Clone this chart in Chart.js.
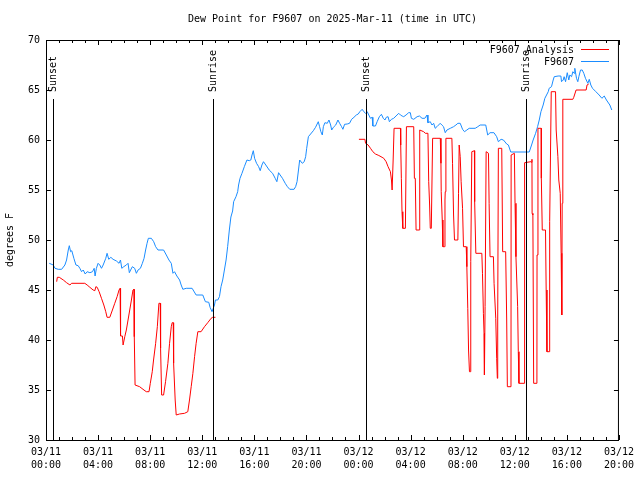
<!DOCTYPE html>
<html>
<head>
<meta charset="utf-8">
<title>Dew Point for F9607</title>
<script src="https://cdn.jsdelivr.net/npm/chart.js@4/dist/chart.umd.min.js"></script>
<style>
  html, body { margin: 0; padding: 0; background: #fff; }
  canvas { display: block; }
</style>
</head>
<body>
<canvas id="dewChart" width="640" height="480"></canvas>
<script>
// hours after 03/11 00:00 UTC
const obsHours = [0.25, 0.56, 0.69, 0.94, 1.2, 1.45, 1.58, 1.71, 1.79, 1.89, 1.98, 2.14, 2.3, 2.47, 2.6, 2.73, 2.86, 3.01, 3.16, 3.37,
  3.57, 3.7, 3.77, 3.87, 4.0, 4.13, 4.26, 4.39, 4.59, 4.69, 4.82, 4.98, 5.15, 5.41, 5.61, 5.72, 5.82, 5.97, 6.17, 6.3,
  6.4, 6.5, 6.63, 6.81, 6.94, 7.07, 7.25, 7.4, 7.53, 7.65, 7.76, 7.86, 8.09, 8.27, 8.42, 8.6, 9.03, 9.24, 9.44, 9.62,
  9.75, 9.87, 10.05, 10.26, 10.38, 10.51, 10.77, 11.22, 11.53, 12.04, 12.24, 12.5, 12.6, 12.75, 12.94, 13.01, 13.19, 13.32, 13.44, 13.57,
  13.7, 13.83, 13.95, 14.08, 14.2, 14.33, 14.41, 14.59, 14.72, 14.79, 14.9, 15.05, 15.23, 15.43, 15.61, 15.73, 15.82, 15.92, 16.02, 16.17,
  16.33, 16.45, 16.58, 16.7, 16.88, 17.14, 17.4, 17.6, 17.73, 17.86, 17.98, 18.16, 18.37, 18.54, 18.72, 19.05, 19.17, 19.28, 19.39, 19.48,
  19.68, 19.83, 19.94, 20.02, 20.15, 20.32, 20.53, 20.7, 20.91, 21.01, 21.11, 21.22, 21.3, 21.42, 21.6, 21.73, 21.86, 21.94, 22.07, 22.25,
  22.42, 22.55, 22.7, 22.8, 22.93, 23.13, 23.31, 23.47, 23.65, 23.83, 23.98, 24.1, 24.28, 24.41, 24.54, 24.67, 24.79, 24.92, 25.05, 25.1,
  25.3, 25.43, 25.6, 25.76, 25.9, 26.03, 26.13, 26.27, 26.37, 26.53, 26.7, 26.88, 27.09, 27.22, 27.35, 27.47, 27.65, 27.85, 27.98, 28.06,
  28.24, 28.5, 28.68, 28.88, 29.09, 29.26, 29.33, 29.51, 29.64, 29.77, 29.89, 30.02, 30.15, 30.27, 30.4, 30.53, 30.66, 30.79, 31.05, 31.3,
  31.48, 31.63, 31.81, 31.99, 32.14, 32.32, 32.5, 32.96, 33.16, 33.34, 33.77, 33.92, 34.1, 34.4, 34.61, 34.74, 34.95, 35.13, 35.38, 35.51,
  35.69, 37.11, 37.29, 37.41, 37.6, 37.75, 37.88, 38.01, 38.18, 38.31, 38.44, 38.57, 38.64, 38.82, 38.95, 39.03, 39.33, 39.54, 39.59, 39.72,
  39.79, 39.9, 40.03, 40.15, 40.23, 40.36, 40.46, 40.56, 40.61, 40.74, 40.84, 40.92, 41.05, 41.18, 41.3, 41.43, 41.61, 41.72, 41.84, 41.97,
  42.23, 42.48, 42.69, 42.87, 43.04, 43.3, 43.45];
const obsDewF = [47.67, 47.5, 47.17, 47.07, 47.07, 47.5, 48.0, 49.0, 49.43, 48.83, 48.93, 48.17, 47.5, 47.43, 47.17, 46.83, 47.0, 46.6, 46.83, 46.73,
  46.83, 47.17, 46.4, 47.17, 47.67, 47.5, 47.17, 47.5, 48.17, 48.67, 48.07, 48.27, 48.07, 47.9, 47.67, 48.0, 47.17, 47.33, 47.5, 47.67,
  46.73, 47.0, 47.33, 47.17, 46.67, 47.0, 47.17, 47.67, 48.17, 49.0, 49.67, 50.17, 50.17, 49.83, 49.33, 49.0, 49.0, 48.5, 48.0, 47.67,
  46.67, 46.83, 46.4, 46.0, 45.5, 45.07, 45.17, 45.17, 44.5, 44.5, 43.83, 43.77, 43.27, 42.83, 43.5, 44.0, 44.0, 44.33, 45.33, 46.0,
  47.0, 48.0, 49.33, 51.0, 52.3, 52.9, 53.83, 54.33, 54.83, 55.5, 56.17, 56.67, 57.33, 58.0, 57.93, 58.0, 58.5, 58.93, 58.17, 57.67,
  57.33, 56.93, 57.5, 57.83, 57.5, 57.0, 56.67, 56.17, 55.83, 56.73, 56.5, 56.17, 55.67, 55.33, 55.07, 55.07, 55.33, 55.83, 57.0, 58.0,
  57.67, 57.83, 58.33, 59.17, 60.33, 60.6, 60.93, 61.27, 61.83, 61.33, 60.83, 60.5, 61.33, 61.73, 61.67, 62.0, 61.5, 61.0, 61.27, 61.5,
  62.0, 61.67, 61.33, 61.07, 61.57, 61.6, 61.67, 62.07, 62.27, 62.5, 62.6, 62.83, 63.07, 62.83, 62.67, 62.83, 62.5, 62.17, 62.27, 61.4,
  61.4, 61.83, 62.33, 62.57, 62.17, 62.0, 62.27, 62.33, 61.83, 62.07, 62.17, 62.4, 62.67, 62.5, 62.4, 62.33, 62.5, 62.73, 62.73, 62.17,
  62.07, 62.33, 62.4, 62.17, 62.17, 62.5, 61.73, 61.83, 61.5, 61.67, 61.17, 61.33, 61.5, 61.67, 61.5, 61.33, 60.73, 61.0, 61.17, 61.33,
  61.5, 61.67, 61.67, 61.07, 60.83, 61.0, 61.17, 61.17, 61.33, 61.5, 61.5, 60.5, 60.73, 60.73, 60.33, 59.83, 60.07, 60.0, 59.6, 59.5,
  58.8, 58.8, 59.5, 60.0, 60.67, 61.33, 62.0, 62.83, 63.5, 64.17, 64.5, 64.83, 65.17, 65.33, 66.0, 66.33, 66.4, 66.4, 65.83, 66.0,
  66.33, 65.83, 66.73, 66.0, 66.5, 66.33, 66.83, 66.67, 67.17, 66.17, 65.83, 66.33, 67.0, 67.0, 66.67, 66.17, 65.67, 66.07, 65.5, 65.17,
  64.83, 64.5, 64.17, 64.4, 64.0, 63.5, 63.0];

// analysis, null marks the gap with no analysis values
const anaHours = [0.82, 0.87, 1.02, 1.33, 1.58, 1.84, 1.96, 2.98, 3.16, 3.37, 3.62, 3.75, 3.83, 3.93, 4.08, 4.26, 4.44, 4.59, 4.69, 4.9,
  5.1, 5.28, 5.46, 5.61, 5.69, 5.71, 5.74, 5.87, 5.92, 6.05, 6.17, 6.3, 6.43, 6.56, 6.68, 6.76, 6.78, 6.84, 7.19, 7.45,
  7.7, 7.91, 8.01, 8.16, 8.26, 8.42, 8.55, 8.67, 8.77, 8.8, 8.88, 9.03, 9.18, 9.36, 9.49, 9.62, 9.69, 9.77, 9.8, 9.92,
  10.0, 10.25, 10.64, 10.89, 11.02, 11.15, 11.28, 11.41, 11.53, 11.66, 11.91, 12.17, 12.42, 12.68, 12.8, 13.01,
  18.0,
  24.03, 24.49, 24.54, 24.74, 24.92, 25.1, 25.3, 25.56, 25.81, 25.94, 26.12, 26.27, 26.45, 26.53, 26.58, 26.62, 26.66, 26.73, 27.22, 27.24,
  27.29, 27.34, 27.4, 27.6, 27.68, 28.24, 28.29, 28.36, 28.42, 28.67, 28.7, 29.0, 29.13, 29.33, 29.39, 29.46, 29.51, 29.59, 29.69, 30.28,
  30.33, 30.35, 30.43, 30.48, 30.61, 30.64, 30.66, 30.71, 31.17, 31.22, 31.3, 31.37, 31.63, 31.68, 31.73, 31.81, 31.88, 31.99, 32.06, 32.27,
  32.32, 32.39, 32.45, 32.52, 32.57, 32.62, 32.7, 32.9, 32.92, 33.01, 33.47, 33.52, 33.59, 33.64, 33.67, 33.72, 33.8, 33.98, 34.03, 34.1,
  34.36, 34.41, 34.54, 34.61, 34.66, 34.69, 34.74, 35.0, 35.07, 35.3, 35.38, 35.43, 35.71, 35.72, 35.97, 36.02, 36.09, 36.22, 36.27, 36.32,
  36.71, 36.73, 36.78, 37.24, 37.27, 37.32, 37.33, 37.39, 37.45, 37.7, 37.71, 37.78, 38.03, 38.04, 38.11, 38.36, 38.41, 38.47, 38.67, 38.68,
  38.8, 39.13, 39.18, 39.31, 39.38, 39.49, 39.56, 39.61, 39.64, 39.69, 40.46, 40.53, 40.71, 41.48, 41.55, 41.68];
const anaDewF = [45.83, 46.27, 46.27, 46.0, 45.73, 45.5, 45.67, 45.67, 45.5, 45.27, 45.0, 44.93, 45.33, 45.27, 44.83, 44.17, 43.5, 42.83, 42.27, 42.27,
  43.0, 43.67, 44.33, 45.0, 45.17, 42.83, 40.4, 40.4, 39.5, 40.33, 41.0, 42.0, 43.0, 44.0, 45.0, 45.07, 40.33, 35.5, 35.33, 35.07,
  34.83, 34.83, 35.67, 36.83, 38.0, 39.67, 41.33, 43.67, 43.67, 39.17, 34.5, 34.5, 35.83, 37.67, 39.67, 41.33, 41.73, 41.73, 37.67, 34.0,
  32.5, 32.6, 32.67, 32.83, 34.0, 35.33, 36.67, 38.33, 39.67, 40.83, 40.83, 41.33, 41.73, 42.17, 42.27, 42.27,
  null,
  60.07, 60.07, 59.67, 59.5, 59.17, 58.83, 58.6, 58.45, 58.27, 58.17, 57.83, 57.33, 56.83, 56.0, 55.0, 55.0, 58.0, 61.17, 61.17, 59.5,
  56.17, 52.83, 51.17, 51.17, 61.33, 61.33, 56.17, 56.17, 51.0, 51.0, 61.0, 60.83, 60.67, 60.67, 55.83, 53.5, 51.17, 51.17, 60.17, 60.17,
  57.67, 54.83, 52.0, 49.33, 49.33, 54.0, 54.83, 60.17, 60.17, 57.67, 52.5, 50.0, 50.0, 54.67, 59.5, 58.33, 55.83, 53.17, 49.33, 49.33,
  47.33, 43.17, 39.0, 36.83, 36.83, 47.83, 58.83, 58.93, 53.83, 48.67, 48.67, 46.67, 42.67, 40.67, 36.5, 43.33, 58.83, 58.67, 53.67, 48.33,
  48.33, 45.67, 42.17, 38.17, 36.17, 42.0, 59.17, 59.17, 48.83, 48.83, 42.0, 35.33, 35.33, 58.5, 58.67, 53.67, 48.33, 43.33, 38.83, 35.67,
  35.67, 46.67, 57.73, 57.83, 57.77, 58.07, 52.67, 52.5, 35.67, 35.67, 48.5, 61.17, 61.17, 56.17, 51.0, 51.0, 45.0, 38.83, 38.83, 51.83,
  64.83, 64.83, 61.0, 58.33, 56.0, 54.67, 48.67, 42.5, 53.67, 64.07, 64.07, 64.27, 65.0, 65.0, 65.5, 65.6];

// x tick labels, one per 4 hours
const dateLabels = ['03/11', '03/11', '03/11', '03/11', '03/11', '03/11', '03/12', '03/12', '03/12', '03/12', '03/12', '03/12'];
const timeLabels = ['00:00', '04:00', '08:00', '12:00', '16:00', '20:00', '00:00', '04:00', '08:00', '12:00', '16:00', '20:00'];

// sunrise / sunset marks
const sunHours = [0.53, 12.8, 24.57, 36.85];
const sunNames = ['Sunset', 'Sunrise', 'Sunset', 'Sunrise'];

const chartTitle = 'Dew Point for F9607 on 2025-Mar-11 (time in UTC)';

const FONT = '"DejaVu Sans Mono", "Liberation Mono", monospace';
const RED = '#ff0000';
const BLUE = '#1a8cff';

function toPoints(xs, ys) {
    return xs.map((x, i) => ({ x: x, y: ys[i] }));
}

// title, box, inward ticks, sun lines and key in gnuplot style
const gnuplotDecor = {
    id: 'gnuplotDecor',
    afterDatasetsDraw(chart) {
        const ctx = chart.ctx;
        const area = chart.chartArea;
        const xs = chart.scales.x;
        const ys = chart.scales.y;
        ctx.save();
        ctx.strokeStyle = '#000';
        ctx.lineWidth = 1;
        ctx.font = '10px ' + FONT;
        ctx.fillStyle = '#000';

        // title centred over the plot box
        ctx.textAlign = 'center';
        ctx.textBaseline = 'middle';
        ctx.fillText(chartTitle, (area.left + area.right) / 2, 19);

        // frame
        ctx.strokeRect(area.left + 0.5, area.top + 0.5, area.right - area.left - 1, area.bottom - area.top);

        // x ticks every hour, longer every 4 hours (bottom and top)
        ctx.beginPath();
        for (let h = 0; h <= 44; h++) {
            const px = Math.round(xs.getPixelForValue(h)) + 0.5;
            const len = h % 4 === 0 ? 5 : 3;
            ctx.moveTo(px, area.bottom);
            ctx.lineTo(px, area.bottom - len);
            ctx.moveTo(px, area.top);
            ctx.lineTo(px, area.top + len);
        }
        // y ticks every 5 degrees (left and right)
        for (let v = 30; v <= 70; v += 5) {
            const py = Math.round(ys.getPixelForValue(v)) + 0.5;
            ctx.moveTo(area.left, py);
            ctx.lineTo(area.left + 5, py);
            ctx.moveTo(area.right, py);
            ctx.lineTo(area.right - 5, py);
        }
        ctx.stroke();

        // sunrise / sunset lines with rotated labels
        sunHours.forEach((h, i) => {
            const px = Math.round(xs.getPixelForValue(h)) + 0.5;
            const top = ys.getPixelForValue(64.1);
            ctx.beginPath();
            ctx.moveTo(px, top);
            ctx.lineTo(px, area.bottom);
            ctx.stroke();
            ctx.save();
            ctx.translate(px, ys.getPixelForValue(64.8));
            ctx.rotate(-Math.PI / 2);
            ctx.textAlign = 'left';
            ctx.textBaseline = 'middle';
            ctx.fillText(sunNames[i], 0, 0);
            ctx.restore();
        });

        // key, top right
        const key = [
            { label: chart.data.datasets[0].label, color: RED, y: 50 },
            { label: chart.data.datasets[1].label, color: BLUE, y: 62 }
        ];
        ctx.textAlign = 'right';
        ctx.textBaseline = 'middle';
        key.forEach(k => {
            ctx.fillStyle = '#000';
            ctx.fillText(k.label, 574, k.y);
            ctx.fillStyle = k.color;
            ctx.fillRect(581, k.y - 1, 28, 1);
        });
        ctx.restore();
    }
};

const dewCtx = document.getElementById('dewChart').getContext('2d');
new Chart(dewCtx, {
    type: 'line',
    data: {
        datasets: [{
            label: 'F9607 Analysis',
            data: toPoints(anaHours, anaDewF),
            borderColor: RED,
            borderWidth: 1,
            pointRadius: 0,
            tension: 0,
            spanGaps: false
        }, {
            label: 'F9607',
            data: toPoints(obsHours, obsDewF),
            borderColor: BLUE,
            borderWidth: 1,
            pointRadius: 0,
            tension: 0
        }]
    },
    options: {
        responsive: false,
        animation: false,
        layout: {
            padding: { left: 0, right: 19, top: 40, bottom: 0 }
        },
        scales: {
            x: {
                type: 'linear',
                min: 0,
                max: 44,
                grid: { display: false, drawTicks: false },
                border: { display: false },
                ticks: {
                    stepSize: 4,
                    autoSkip: false,
                    maxRotation: 0,
                    padding: 6,
                    color: '#000',
                    font: { family: FONT, size: 10, lineHeight: 1.3 },
                    callback: function(value) {
                        const i = Math.round(value / 4);
                        return [dateLabels[i], timeLabels[i]];
                    }
                },
                afterFit: function(scale) {
                    scale.height = 40;
                }
            },
            y: {
                min: 30,
                max: 70,
                grid: { display: false, drawTicks: false },
                border: { display: false },
                ticks: {
                    stepSize: 5,
                    padding: 6,
                    color: '#000',
                    font: { family: FONT, size: 10 }
                },
                title: {
                    display: true,
                    text: 'degrees F',
                    color: '#000',
                    font: { family: FONT, size: 10 },
                    padding: { top: 4, bottom: 0 }
                },
                afterFit: function(scale) {
                    scale.width = 46;
                }
            }
        },
        plugins: {
            legend: { display: false },
            tooltip: { enabled: false },
            title: { display: false }
        }
    },
    plugins: [gnuplotDecor]
});
</script>
</body>
</html>
